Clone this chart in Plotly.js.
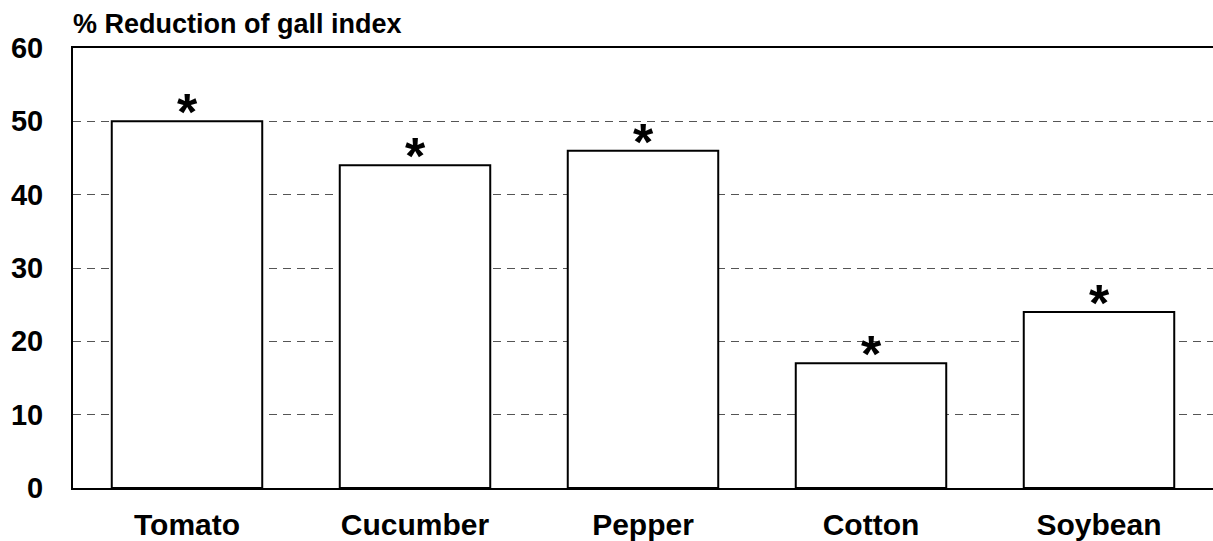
<!DOCTYPE html>
<html>
<head>
<meta charset="utf-8">
<script src="https://cdn.plot.ly/plotly-3.0.1.min.js"></script>
<style>html,body{margin:0;padding:0;background:#fff;}#chart{width:1213px;height:541px;}</style>
</head>
<body>
<div id="chart"></div>
<script>
const categories = ['Tomato', 'Cucumber', 'Pepper', 'Cotton', 'Soybean'];
const reduction = [50, 44, 46, 17, 24];
const marks = ['*', '*', '*', '*', '*'];
const yTicks = [0, 10, 20, 30, 40, 50, 60];

const FONT = 'Liberation Sans, Arial, sans-serif';

const trace = {
  type: 'bar',
  x: categories,
  y: reduction,
  marker: {color: '#ffffff', line: {color: '#000000', width: 2}},
  hoverinfo: 'skip'
};

const annotations = categories.map((c, i) => ({
  x: c, y: reduction[i], xref: 'x', yref: 'y',
  text: '<b>' + marks[i] + '</b>', showarrow: false,
  yanchor: 'bottom', yshift: -22,
  font: {family: FONT, size: 52, color: '#000'}
}));

const layout = {
  width: 1213, height: 541,
  margin: {l: 73, r: 0, t: 48, b: 53},
  paper_bgcolor: '#fff', plot_bgcolor: '#fff',
  showlegend: false,
  bargap: 0.34,
  title: {
    text: '<b>% Reduction of gall index</b>',
    font: {family: FONT, size: 27, color: '#000'},
    xref: 'paper', x: 0, xanchor: 'left',
    yref: 'container', y: 1 - 24/541, yanchor: 'middle'
  },
  xaxis: {
    showline: true, linecolor: '#000', linewidth: 2, mirror: true,
    ticks: '', showgrid: false, ticklabelstandoff: 9,
    tickfont: {family: FONT, size: 30, color: '#000', weight: 'bold'}
  },
  yaxis: {
    range: [0, 60], tickvals: yTicks, ticktext: yTicks.map(String),
    showline: true, linecolor: '#000', linewidth: 2,
    ticks: '', ticklabelstandoff: 22,
    showgrid: true, gridcolor: '#555', griddash: '8px,6px', gridwidth: 1,
    zeroline: false,
    tickfont: {family: FONT, size: 29, color: '#000', weight: 'bold'}
  },
  annotations: annotations
};

Plotly.newPlot('chart', [trace], layout, {staticPlot: true});
</script>
</body>
</html>
